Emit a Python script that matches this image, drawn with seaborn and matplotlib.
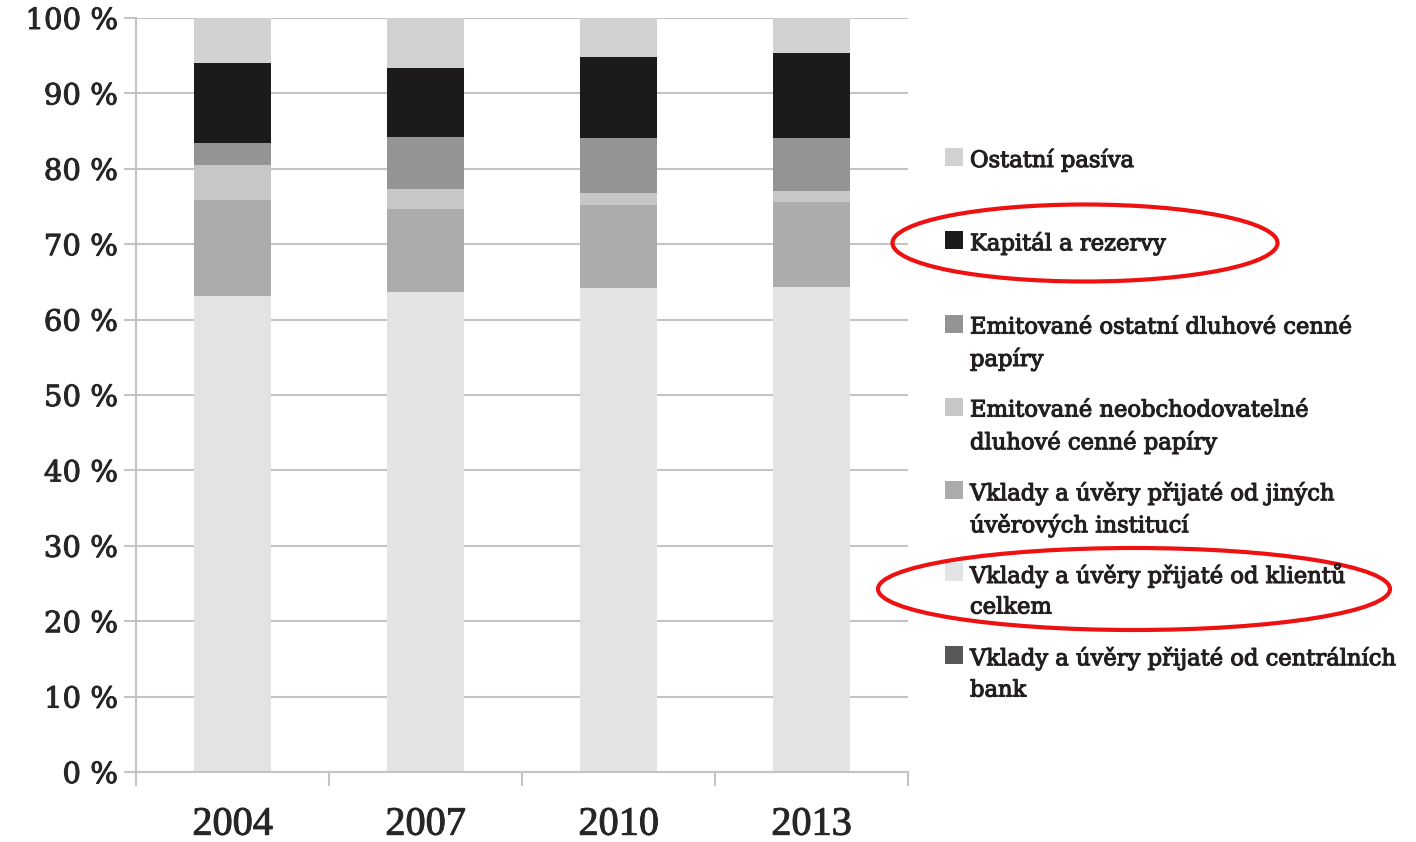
import numpy as np
import pandas as pd
import matplotlib
matplotlib.use("Agg")
import matplotlib.pyplot as plt
from matplotlib.patches import Ellipse, Rectangle
import matplotlib.patheffects as pe
import seaborn as sns

# Structure of bank liabilities (% of total), stacked from bottom to top
years = ["2004", "2007", "2010", "2013"]
centralni_banky = [0.0, 0.0, 0.0, 0.0]
klienti = [63.1, 63.7, 64.2, 64.3]
jine_instituce = [12.8, 11.0, 11.0, 11.3]
neobchodovatelne = [4.6, 2.6, 1.6, 1.5]
ostatni_dluhove = [2.9, 6.9, 7.3, 7.0]
kapital = [10.6, 9.2, 10.7, 11.3]
ostatni_pasiva = [6.0, 6.6, 5.2, 4.6]

series_labels = [
    "Vklady a úvěry přijaté od centrálních\nbank",
    "Vklady a úvěry přijaté od klientů\ncelkem",
    "Vklady a úvěry přijaté od jiných\núvěrových institucí",
    "Emitované neobchodovatelné\ndluhové cenné papíry",
    "Emitované ostatní dluhové cenné\npapíry",
    "Kapitál a rezervy",
    "Ostatní pasíva",
]
series_values = [centralni_banky, klienti, jine_instituce, neobchodovatelne,
                 ostatni_dluhove, kapital, ostatni_pasiva]
series_colors = ["#58585a", "#e2e3e5", "#abacae", "#c6c7c9",
                 "#939496", "#1c1a1d", "#d1d2d4"]
ytick_values = list(range(0, 101, 10))
ytick_labels = [f"{v} %" for v in ytick_values]

sns.set_theme(style="white")

W, H = 1416, 842
fig = plt.figure(figsize=(W / 100, H / 100), dpi=100)
ax = fig.add_axes([136 / W, (H - 772) / H, (908 - 136) / W, (772 - 18) / H])

# Cumulative heights; draw tallest first so each layer covers the one below
cum = np.cumsum(np.array(series_values), axis=0)
for i in range(len(series_values) - 1, -1, -1):
    df = pd.DataFrame({"year": years, "value": cum[i]})
    sns.barplot(data=df, x="year", y="value", color=series_colors[i],
                width=0.4, saturation=1, linewidth=0, ax=ax, zorder=2)

ax.set_xlim(-0.5, 3.5)
ax.set_ylim(0, 100)
ax.set_xlabel("")
ax.set_ylabel("")

text_c = "#262626"
heavy = [pe.withStroke(linewidth=0.7, foreground=text_c)]

grid_c = "#c4c4c4"
ax.set_yticks(ytick_values)
ax.set_yticklabels(ytick_labels, family="DejaVu Serif", fontsize=21,
                   color=text_c)
ax.yaxis.grid(True, color=grid_c, linewidth=1.5, zorder=0)
ax.set_axisbelow(True)
ax.tick_params(axis="y", which="major", left=True, length=9, width=1.5,
               color=grid_c, pad=4)

ax.set_xticks(range(len(years)))
ax.set_xticklabels(years, family="Liberation Serif", fontsize=29,
                   color=text_c)
ax.set_xticks(np.arange(-0.5, len(years), 1.0), minor=True)
ax.tick_params(axis="x", which="major", length=0, pad=25)
ax.tick_params(axis="x", which="minor", bottom=True, length=10, width=1.5,
               color=grid_c)
for t in ax.get_xticklabels() + ax.get_yticklabels():
    t.set_path_effects(heavy)

for s in ["top", "right"]:
    ax.spines[s].set_visible(False)
for s in ["left", "bottom"]:
    ax.spines[s].set_color(grid_c)
    ax.spines[s].set_linewidth(1.5)

# Legend at the right, top entry first
first_line_y = [656, 573, 491, 408, 325, 241, 158]
for lab, col, y0 in zip(series_labels, series_colors, first_line_y):
    fig.patches.append(Rectangle((945 / W, 1 - (y0 + 8) / H), 18 / W, 18 / H,
                                 transform=fig.transFigure, facecolor=col,
                                 edgecolor="none"))
    for k, line in enumerate(lab.split("\n")):
        y = y0 + k * 32
        fig.text(970 / W, 1 - y / H, line, family="DejaVu Serif",
                 fontsize=16.3, color="#231f20", va="center_baseline",
                 ha="left",
                 path_effects=[pe.withStroke(linewidth=0.8,
                                             foreground="#231f20")])

# Red highlight ellipses around two legend entries
for cx, cy, w, h in [(1085, 243, 385, 77), (1134, 589, 512, 82)]:
    fig.patches.append(Ellipse((cx / W, 1 - cy / H), w / W, h / H,
                               transform=fig.transFigure, fill=False,
                               edgecolor="#ee1111", linewidth=3))

fig.savefig("out.png", dpi=100)
